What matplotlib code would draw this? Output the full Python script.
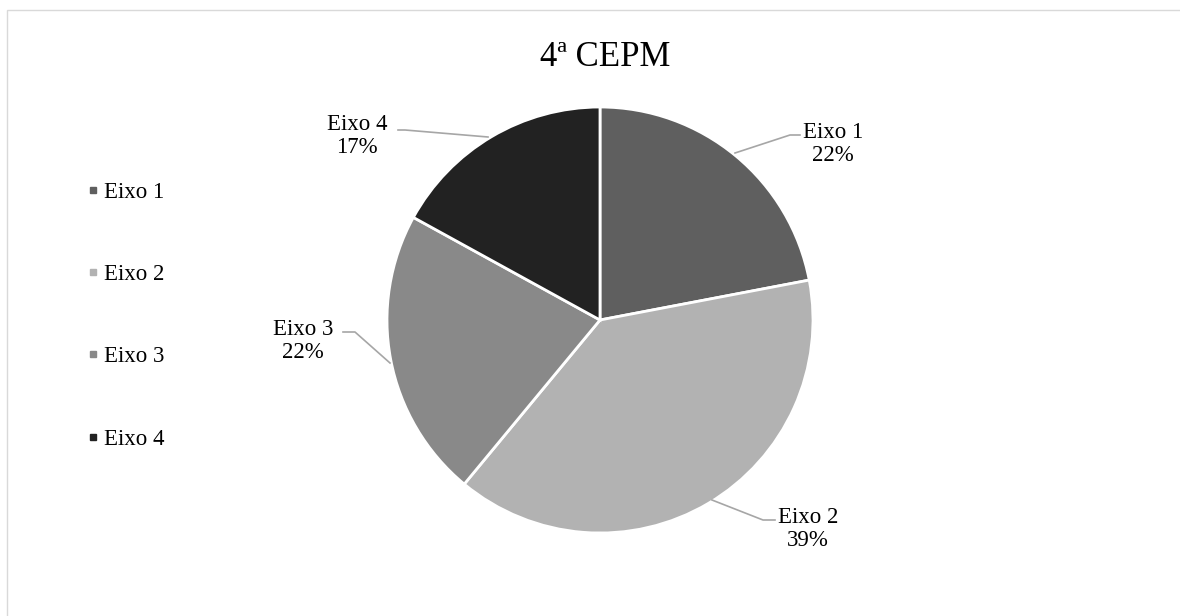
import matplotlib
matplotlib.use("Agg")
import matplotlib.pyplot as plt
from matplotlib.lines import Line2D
from matplotlib.patches import Rectangle

categories = ["Eixo 1", "Eixo 2", "Eixo 3", "Eixo 4"]
values = [22, 39, 22, 17]
pct_labels = ["22%", "39%", "22%", "17%"]
colors = ["#5f5f5f", "#b2b2b2", "#898989", "#222222"]
title = "4ª CEPM"

plt.rcParams["font.family"] = ["Liberation Serif", "DejaVu Serif"]

W, H = 1180, 616
fig = plt.figure(figsize=(W / 100, H / 100), dpi=100)
fig.patch.set_facecolor("white")

# outer border
fig.add_artist(Rectangle((7 / W, -0.1), 1.2, 1 - 10 / H + 0.1, transform=fig.transFigure,
                         fill=False, edgecolor="#d9d9d9", linewidth=1))

cx, cy, r = 600, 320, 213
ax = fig.add_axes([(cx - r) / W, (H - cy - r) / H, 2 * r / W, 2 * r / H])

wedges, _ = ax.pie(values, colors=colors, startangle=90, counterclock=False, radius=1,
                   wedgeprops=dict(edgecolor="white", linewidth=2))
ax.set_xlim(-1, 1)
ax.set_ylim(-1, 1)
ax.set_aspect("equal")
ax.axis("off")
for w in wedges:
    w.set_clip_on(False)

# label positions (data coords, relative to pie center/radius)
def px(x, y):
    return ((x - cx) / r, (cy - y) / r)

text_pos = [px(833, 144), px(808, 529), px(303, 341), px(357, 136)]
leaders = [
    [px(735, 153), px(790, 135), px(800, 135)],
    [px(712, 500), px(763, 520), px(775, 520)],
    [px(390, 363), px(355, 332), px(343, 332)],
    [px(488, 137), px(405, 130), px(398, 130)],
]
for (tx, ty), cat, pl, pts in zip(text_pos, categories, pct_labels, leaders):
    ax.text(tx, ty, f"{cat}\n{pl}", ha="center", va="center", fontsize=16.5,
            linespacing=1.17, clip_on=False)
    xs = [p[0] for p in pts]
    ys = [p[1] for p in pts]
    ax.add_line(Line2D(xs, ys, color="#a6a6a6", linewidth=1.2, clip_on=False))

fig.text(605 / W, 1 - 58 / H, title, ha="center", va="center", fontsize=25)

handles = [Line2D([], [], marker="s", linestyle="none", markersize=5,
                  markerfacecolor=c, markeredgecolor=c) for c in colors]
fig.legend(handles, categories, loc="upper left", bbox_to_anchor=(87 / W, 1 - 182 / H),
           frameon=False, fontsize=16.5, labelspacing=2.67, handlelength=0.5,
           handletextpad=0.22, borderpad=0, borderaxespad=0)

fig.savefig("out.png", dpi=100, facecolor="white")
